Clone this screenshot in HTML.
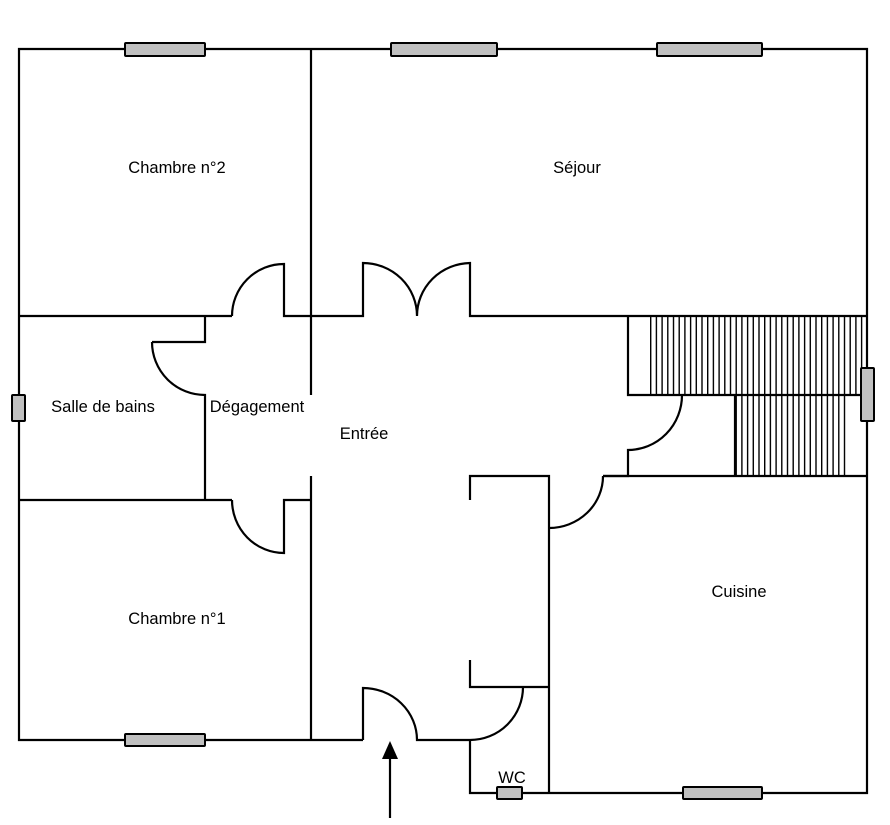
<!DOCTYPE html>
<html><head><meta charset="utf-8"><style>
html,body{margin:0;padding:0;background:#fff;width:890px;height:825px;overflow:hidden}
text{font-family:"Liberation Sans",Arial,sans-serif;font-size:16.5px;fill:#000}
</style></head><body>
<svg width="890" height="825" viewBox="0 0 890 825" xmlns="http://www.w3.org/2000/svg">
<defs>
<pattern id="h" x="650" y="0" width="5.7" height="10" patternUnits="userSpaceOnUse">
<line x1="0.7" y1="0" x2="0.7" y2="10" stroke="#000" stroke-width="1.4"/>
</pattern>
</defs>
<g fill="none" stroke="#000" stroke-width="2.2">
<rect x="650" y="316" width="217" height="79" fill="url(#h)" stroke="none"/>
<rect x="735" y="395" width="113" height="81" fill="url(#h)" stroke="none"/>
<polyline points="363,740 19,740 19,49 867,49 867,793 470,793 470,740"/>
<line x1="311" y1="49" x2="311" y2="395"/>
<line x1="311" y1="476" x2="311" y2="740"/>
<polyline points="19,316 232,316"/>
<path d="M232,316 A52,52 0 0 1 284,264 L284,316 L363,316 L363,263 A54,53 0 0 1 417,316 A54,53 0 0 1 470,263 L470,316 L867,316"/>
<polyline points="205,316 205,342 152,342"/>
<path d="M152,342 A53,53 0 0 0 205,395 L205,500"/>
<polyline points="19,500 232,500"/>
<path d="M232,500 A52,53 0 0 0 284,553 L284,500 L311,500"/>
<polyline points="628,316 628,395 682,395"/>
<line x1="682" y1="395" x2="867" y2="395"/>
<line x1="735" y1="395" x2="735" y2="476"/>
<path d="M682,395 A54,55 0 0 1 628,450 L628,476 L603,476"/>
<line x1="603" y1="476" x2="867" y2="476"/>
<polyline points="470,500 470,476 549,476 549,793"/>
<path d="M603,476 A54,52 0 0 1 549,528"/>
<polyline points="470,660 470,687 549,687"/>
<path d="M523,687 A53,53 0 0 1 470,740"/>
<path d="M363,740 L363,688 A54,52 0 0 1 417,740 L470,740"/>
<line x1="390" y1="818" x2="390" y2="758"/>
</g>
<polygon points="390,741 382,759 398,759" fill="#000"/>
<g fill="#c0c0c0" stroke="#000" stroke-width="2">
<rect x="125" y="43" width="80" height="13" rx="1"/>
<rect x="391" y="43" width="106" height="13" rx="1"/>
<rect x="657" y="43" width="105" height="13" rx="1"/>
<rect x="12" y="395" width="13" height="26" rx="1"/>
<rect x="861" y="368" width="13" height="53" rx="1"/>
<rect x="125" y="734" width="80" height="12" rx="1"/>
<rect x="497" y="787" width="25" height="12" rx="1"/>
<rect x="683" y="787" width="79" height="12" rx="1"/>
</g>
<text x="177" y="173" text-anchor="middle">Chambre n°2</text>
<text x="577" y="173" text-anchor="middle">Séjour</text>
<text x="103" y="412" text-anchor="middle">Salle de bains</text>
<text x="257" y="412" text-anchor="middle">Dégagement</text>
<text x="364" y="439" text-anchor="middle">Entrée</text>
<text x="177" y="624" text-anchor="middle">Chambre n°1</text>
<text x="739" y="597" text-anchor="middle">Cuisine</text>
<text x="512" y="783" text-anchor="middle">WC</text>
</svg>
</body></html>
